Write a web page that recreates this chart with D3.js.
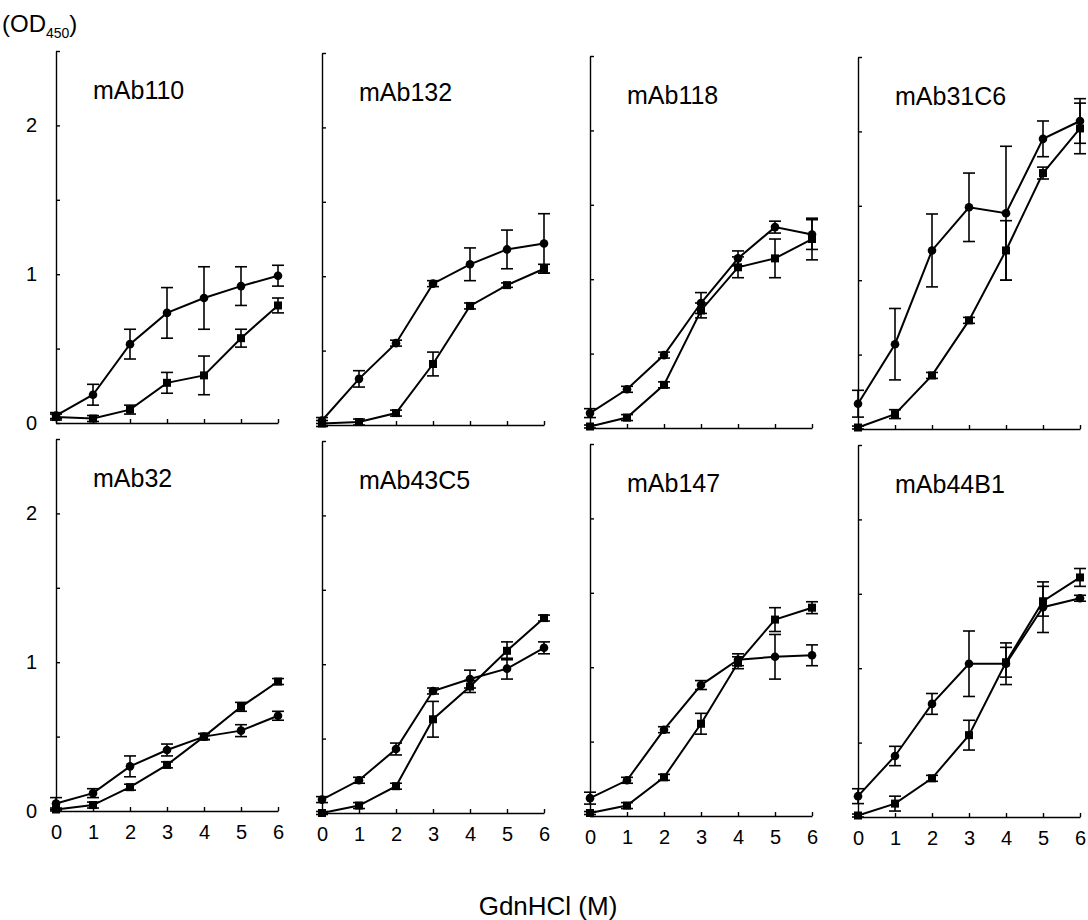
<!DOCTYPE html>
<html>
<head>
<meta charset="utf-8">
<script src="https://cdn.jsdelivr.net/npm/d3@7"></script>
<style>
  body { margin: 0; background: #fff; }
  svg { font-family: "Liberation Sans", Arial, sans-serif; }
  .axis path, .axis line { stroke: #000; stroke-width: 1.4; }
</style>
</head>
<body>
<svg id="chart" width="1088" height="920"></svg>
<script>
// GdnHCl concentration (M)
const conc = [0, 1, 2, 3, 4, 5, 6];
const antibodies = ["mAb110", "mAb132", "mAb118", "mAb31C6", "mAb32", "mAb43C5", "mAb147", "mAb44B1"];
const yTicks = [0, 0.5, 1, 1.5, 2, 2.5];
const yTickLabels = [0, 1, 2];

// circle series (one row per antibody)
const circleMeans = [
  [0.05, 0.19, 0.53, 0.74, 0.84, 0.92, 0.99],
  [0.03, 0.31, 0.55, 0.95, 1.08, 1.18, 1.22],
  [0.10, 0.26, 0.49, 0.84, 1.14, 1.35, 1.30],
  [0.17, 0.57, 1.20, 1.49, 1.45, 1.95, 2.07],
  [0.05, 0.12, 0.30, 0.41, 0.50, 0.54, 0.64],
  [0.09, 0.22, 0.43, 0.82, 0.90, 0.97, 1.11],
  [0.12, 0.24, 0.58, 0.88, 1.05, 1.07, 1.08],
  [0.14, 0.41, 0.76, 1.03, 1.03, 1.41, 1.47]
];
const circleErrs = [
  [0.02, 0.07, 0.10, 0.17, 0.21, 0.13, 0.07],
  [0.02, 0.055, 0.02, 0.02, 0.11, 0.13, 0.20],
  [0.03, 0.02, 0.02, 0.07, 0.05, 0.04, 0.10],
  [0.09, 0.24, 0.245, 0.23, 0.45, 0.12, 0.15],
  [0.04, 0.03, 0.07, 0.04, 0.02, 0.04, 0.03],
  [0.02, 0.02, 0.04, 0.02, 0.06, 0.07, 0.04],
  [0.04, 0.02, 0.02, 0.03, 0.04, 0.15, 0.07],
  [0.05, 0.065, 0.07, 0.22, 0.14, 0.17, 0.02]
];

// square series
const squareMeans = [
  [0.04, 0.03, 0.09, 0.27, 0.32, 0.57, 0.79],
  [0.01, 0.02, 0.08, 0.41, 0.80, 0.94, 1.05],
  [0.01, 0.07, 0.29, 0.79, 1.08, 1.14, 1.27],
  [0.01, 0.10, 0.36, 0.73, 1.20, 1.72, 2.02],
  [0.01, 0.04, 0.16, 0.31, 0.50, 0.70, 0.87],
  [0.00, 0.05, 0.18, 0.63, 0.85, 1.09, 1.31],
  [0.02, 0.07, 0.26, 0.62, 1.03, 1.32, 1.40],
  [0.01, 0.09, 0.26, 0.55, 1.04, 1.45, 1.61]
];
const squareErrs = [
  [0.02, 0.02, 0.03, 0.07, 0.13, 0.06, 0.05],
  [0.02, 0.02, 0.02, 0.08, 0.02, 0.015, 0.03],
  [0.01, 0.02, 0.02, 0.05, 0.07, 0.13, 0.14],
  [0.01, 0.03, 0.02, 0.02, 0.20, 0.04, 0.17],
  [0.01, 0.02, 0.02, 0.02, 0.02, 0.03, 0.02],
  [0.01, 0.02, 0.02, 0.12, 0.04, 0.06, 0.02],
  [0.01, 0.02, 0.02, 0.07, 0.04, 0.08, 0.04],
  [0.01, 0.05, 0.02, 0.10, 0.10, 0.10, 0.06]
];

// layout of the 4x2 grid (scanned figure drifts a little downwards to the right)
const colX = [56, 322, 590, 858];
const colDrift = [0, 2, 5, 6];
const rowZero = [423, 811];
const panelW = 222;
const panelH = 372;

const svg = d3.select("#chart");

const line = d3.line()
  .x(d => d[0])
  .y(d => d[1]);

antibodies.forEach((name, i) => {
  const row = Math.floor(i / 4);
  const col = i % 4;
  const x0 = colX[col];
  const y0 = rowZero[row] + colDrift[col];

  const x = d3.scaleLinear().domain([0, 6]).range([x0, x0 + panelW]);
  const y = d3.scaleLinear().domain([0, 2.5]).range([y0, y0 - panelH]);

  const g = svg.append("g").attr("class", "panel");

  // axes, ticks pointing inwards
  const xAxis = d3.axisBottom(x)
    .tickValues(conc)
    .tickSizeInner(-4)
    .tickSizeOuter(0)
    .tickPadding(14)
    .tickFormat(row === 1 ? d3.format("d") : () => "");
  g.append("g")
    .attr("class", "axis")
    .attr("transform", `translate(0,${y0})`)
    .call(xAxis);

  const yAxis = d3.axisLeft(y)
    .tickValues(yTicks)
    .tickSizeInner(-4)
    .tickSizeOuter(0)
    .tickPadding(19)
    .tickFormat(d => (col === 0 && yTickLabels.includes(d)) ? d : "");
  g.append("g")
    .attr("class", "axis")
    .attr("transform", `translate(${x0},0)`)
    .call(yAxis);

  g.selectAll(".axis")
    .attr("font-size", 20)
    .attr("font-family", "Liberation Sans, Arial, sans-serif");
  g.selectAll(".axis text").attr("fill", "#000");

  // panel title
  g.append("text")
    .attr("x", x0 + 37)
    .attr("y", y(2.18))
    .attr("font-size", 25)
    .text(name);

  const series = [
    { mean: circleMeans[i], err: circleErrs[i], shape: "circle" },
    { mean: squareMeans[i], err: squareErrs[i], shape: "square" }
  ];

  series.forEach(s => {
    const pts = conc.map((c, k) => [x(c), y(s.mean[k])]);
    g.append("path")
      .attr("d", line(pts))
      .attr("fill", "none")
      .attr("stroke", "#000")
      .attr("stroke-width", 2);

    // error bars
    const eb = g.append("g")
      .attr("stroke", "#000")
      .attr("stroke-width", 1.6);
    conc.forEach((c, k) => {
      const hi = y(s.mean[k] + s.err[k]);
      const lo = y(s.mean[k] - s.err[k]);
      const cx = x(c);
      eb.append("line").attr("x1", cx).attr("x2", cx).attr("y1", hi).attr("y2", lo);
      eb.append("line").attr("x1", cx - 6).attr("x2", cx + 6).attr("y1", hi).attr("y2", hi);
      eb.append("line").attr("x1", cx - 6).attr("x2", cx + 6).attr("y1", lo).attr("y2", lo);
    });

    if (s.shape === "circle") {
      g.selectAll(null)
        .data(pts)
        .enter()
        .append("circle")
        .attr("cx", d => d[0])
        .attr("cy", d => d[1])
        .attr("r", 4.3)
        .attr("fill", "#000");
    } else {
      g.selectAll(null)
        .data(pts)
        .enter()
        .append("rect")
        .attr("x", d => d[0] - 4)
        .attr("y", d => d[1] - 4)
        .attr("width", 8)
        .attr("height", 8)
        .attr("fill", "#000");
    }
  });
});

// y axis unit label
const yLab = svg.append("text")
  .attr("x", 2)
  .attr("y", 32)
  .attr("font-size", 24);
yLab.append("tspan").text("(OD");
yLab.append("tspan").attr("font-size", 14).attr("dy", 6).text("450");
yLab.append("tspan").attr("dy", -6).text(")");

// x axis title
svg.append("text")
  .attr("x", 548)
  .attr("y", 915)
  .attr("text-anchor", "middle")
  .attr("font-size", 26)
  .text("GdnHCl (M)");
</script>
</body>
</html>
